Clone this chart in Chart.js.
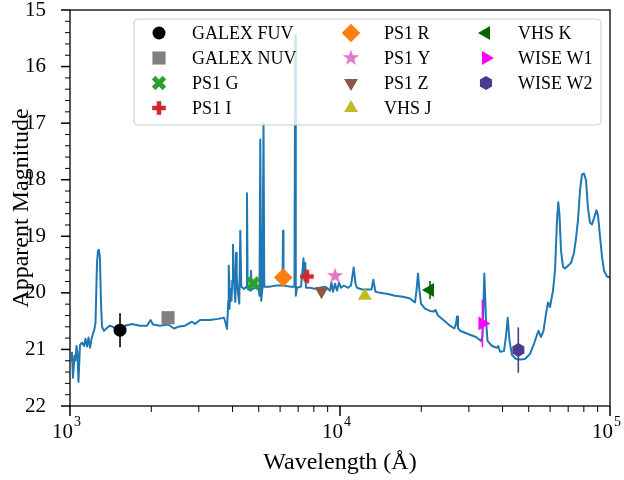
<!DOCTYPE html>
<html>
<head>
<meta charset="utf-8">
<script src="https://cdn.jsdelivr.net/npm/chart.js@4.4.1/dist/chart.umd.min.js"></script>
<style>
  html, body { margin: 0; padding: 0; background: #fff; }
  #wrap { width: 624px; height: 480px; }
</style>
</head>
<body>
<div id="wrap"><canvas id="sed" width="624" height="480" style="width:624px;height:480px"></canvas></div>
<script>
// Spectrum (wavelength in Angstrom, apparent magnitude)
const specWave = [
  1009, 1017, 1026, 1039, 1048, 1057, 1066, 1075, 1089, 1108, 1127, 1141, 1156, 1171, 1186, 1202,
  1217, 1232, 1243, 1259, 1270, 1280, 1291, 1302, 1314, 1336, 1371, 1407, 1468, 1599, 1697, 1816,
  1929, 1987, 2030, 2154, 2307, 2428, 2512, 2667, 2831, 2904, 3030, 3301, 3533, 3719, 3783, 3815,
  3857, 3871, 3887, 3897, 3930, 3964, 3991, 4015, 4040, 4068, 4096, 4120, 4145, 4173, 4236, 4273,
  4309, 4409, 4505, 4524, 4550, 4653, 4680, 4709, 4843, 4989, 5033, 5067, 5106, 5164, 5208, 5243,
  5506, 5794, 6124, 6151, 6177, 6529, 6783, 6824, 6859, 6929, 7170, 7262, 7324, 7387, 7438, 7483,
  7742, 8078, 8432, 8799, 9183, 9300, 9420, 9582, 9748, 9915, 10086, 10346, 10705, 10983, 11239, 11414,
  11561, 12063, 13085, 13285, 13538, 14068, 15058, 15988, 17117, 18163, 18957, 19201, 19447, 19700, 19953, 20645,
  21544, 22289, 22576, 23062, 24276, 25548, 26500, 26891, 27126, 27353, 27826, 30302, 31893, 33291, 33720, 34240,
  34740, 35191, 36559, 38148, 38574, 39140, 40493, 41190, 41791, 42440, 43351, 44859, 46416, 48437, 50546, 52307,
  53660, 54350, 55515, 56718, 57943, 58942, 59948, 61503, 62562, 63640, 64348, 65013, 65848, 66980, 68129, 69894,
  71711, 73564, 74819, 76100, 77426, 78755, 80101, 81485, 82903, 84317, 85770, 87627, 89125, 90270, 91833, 93415,
  95015, 97475, 100000
]
const specMag = [
  21.20, 21.06, 21.50, 21.11, 21.20, 20.94, 21.06, 21.57, 20.92, 20.88, 20.94, 20.81, 20.95, 20.79, 20.97, 20.81,
  20.72, 20.64, 20.53, 19.47, 19.25, 19.24, 19.39, 20.14, 20.60, 20.67, 20.62, 20.58, 20.62, 20.58, 20.55, 20.58,
  20.58, 20.48, 20.56, 20.58, 20.56, 20.63, 20.60, 20.58, 20.51, 20.55, 20.48, 20.48, 20.46, 20.44, 20.56, 20.64,
  20.14, 19.52, 19.78, 20.28, 19.93, 20.14, 19.78, 19.15, 19.61, 19.96, 20.16, 19.29, 19.70, 19.93, 20.19, 18.90,
  19.89, 19.93, 19.89, 18.24, 19.93, 19.96, 19.61, 19.94, 19.91, 19.91, 20.05, 17.29, 20.14, 19.91, 17.00, 19.89,
  19.89, 19.87, 19.87, 18.90, 19.87, 19.89, 19.89, 15.44, 20.05, 19.91, 19.89, 19.61, 19.39, 19.78, 19.47, 19.91,
  19.91, 19.93, 19.91, 19.89, 19.96, 19.82, 19.98, 19.84, 19.96, 19.82, 19.91, 19.87, 19.91, 19.87, 19.55, 19.84,
  19.91, 19.94, 19.94, 19.77, 19.98, 20.00, 20.02, 20.05, 20.07, 20.10, 20.17, 19.96, 19.66, 19.96, 20.19, 20.28,
  20.32, 20.33, 20.30, 20.40, 20.49, 20.58, 20.63, 20.55, 20.42, 20.62, 20.67, 20.74, 20.78, 20.85, 20.76, 19.66,
  20.49, 20.85, 20.94, 20.97, 20.94, 21.04, 21.03, 20.76, 20.44, 20.85, 21.10, 21.17, 21.18, 21.17, 21.08, 20.90,
  20.74, 20.67, 20.78, 20.67, 20.37, 20.17, 20.25, 19.96, 19.61, 18.72, 18.40, 18.63, 19.25, 19.54, 19.57, 19.52,
  19.47, 19.29, 19.04, 18.72, 18.19, 17.91, 17.89, 18.01, 18.51, 18.76, 18.79, 18.65, 18.54, 18.63, 19.00, 19.36,
  19.61, 19.71, 19.73
]

// Photometry
const bands = ['GALEX FUV', 'GALEX NUV', 'PS1 G', 'PS1 I', 'PS1 R', 'PS1 Y', 'PS1 Z', 'VHS J', 'VHS K', 'WISE W1', 'WISE W2']
const bandWave = [1532, 2307, 4775, 7541, 6163, 9585, 8543, 12363, 21544, 33690, 45750]
const bandMag = [20.66, 20.44, 19.83, 19.71, 19.73, 19.70, 19.97, 20.05, 19.95, 20.54, 21.01]
const bandErr = [0.30, 0.08, 0.03, 0.03, 0.03, 0.04, 0.04, 0.05, 0.16, 0.42, 0.40]
const bandColors = ['#000000', '#808080', '#2ca02c', '#d62728', '#ff7f0e', '#e377c2', '#8c564b', '#bcbd22', '#006400', '#ff00ff', '#483d8b']

// Axis ticks
const xMajorTicks = [1e3, 1e4, 1e5]
const yMajorTicks = [15, 16, 17, 18, 19, 20, 21, 22]

const SERIF = "'Liberation Serif', 'DejaVu Serif', serif"
Chart.defaults.font.family = SERIF
Chart.defaults.color = '#000'

// Filled marker shapes that Chart.js does not have
function glyph(color, draw) {
  const size = 20
  const c = document.createElement('canvas')
  c.width = size
  c.height = size
  const g = c.getContext('2d')
  g.translate(size / 2, size / 2)
  g.fillStyle = color
  g.beginPath()
  draw(g)
  g.closePath()
  g.fill()
  return c
}

function plusPath(g, r, rot) {
  const w = r / 3
  const pts = [[-w, -r], [w, -r], [w, -w], [r, -w], [r, w], [w, w], [w, r], [-w, r], [-w, w], [-r, w], [-r, -w], [-w, -w]]
  const c = Math.cos(rot), s = Math.sin(rot)
  pts.forEach(([x, y], i) => {
    const px = x * c - y * s, py = x * s + y * c
    i ? g.lineTo(px, py) : g.moveTo(px, py)
  })
}

function starPath(g, R) {
  for (let k = 0; k < 10; k++) {
    const r = k % 2 ? R * 0.382 : R
    const a = -Math.PI / 2 + k * Math.PI / 5
    k ? g.lineTo(r * Math.cos(a), r * Math.sin(a)) : g.moveTo(r * Math.cos(a), r * Math.sin(a))
  }
}

function hexPath(g, R) {
  for (let k = 0; k < 6; k++) {
    const a = -Math.PI / 2 + k * Math.PI / 3
    k ? g.lineTo(R * Math.cos(a), R * Math.sin(a)) : g.moveTo(R * Math.cos(a), R * Math.sin(a))
  }
}

function markerFor(name, color) {
  switch (name) {
    case 'GALEX FUV': return { pointStyle: 'circle', radius: 6.5, rotation: 0 }
    case 'GALEX NUV': return { pointStyle: 'rect', radius: 9.3, rotation: 0 }
    case 'PS1 G': return { pointStyle: glyph(color, g => plusPath(g, 7.6, Math.PI / 4)), radius: 7, rotation: 0 }
    case 'PS1 I': return { pointStyle: glyph(color, g => plusPath(g, 6.8, 0)), radius: 7, rotation: 0 }
    case 'PS1 R': return { pointStyle: 'rectRot', radius: 9.3, rotation: 0 }
    case 'PS1 Y': return { pointStyle: glyph(color, g => starPath(g, 8.6)), radius: 8, rotation: 0 }
    case 'PS1 Z': return { pointStyle: 'triangle', radius: 8, rotation: 180 }
    case 'VHS J': return { pointStyle: 'triangle', radius: 8, rotation: 0 }
    case 'VHS K': return { pointStyle: 'triangle', radius: 8, rotation: 270 }
    case 'WISE W1': return { pointStyle: 'triangle', radius: 8, rotation: 90 }
    default: return { pointStyle: glyph(color, g => hexPath(g, 7)), radius: 7, rotation: 0 }
  }
}

const markers = bands.map((b, i) => markerFor(b, bandColors[i]))

const bandSets = bands.map((b, i) => ({
  label: b,
  data: [{ x: bandWave[i], y: bandMag[i] }],
  backgroundColor: bandColors[i],
  borderColor: bandColors[i],
  pointBackgroundColor: bandColors[i],
  pointBorderWidth: 0,
  pointStyle: markers[i].pointStyle,
  pointRadius: markers[i].radius,
  pointRotation: markers[i].rotation
}))

const spectrumSet = {
  label: 'spectrum',
  data: specWave.map((w, i) => ({ x: w, y: specMag[i] })),
  showLine: true,
  borderColor: '#1f77b4',
  borderWidth: 2,
  borderJoinStyle: 'round',
  pointRadius: 0,
  tension: 0
}

// Error bars on the photometry
const errorBars = {
  id: 'errorBars',
  afterDatasetsDraw(chart) {
    const { ctx, scales: { x, y } } = chart
    ctx.save()
    ctx.lineWidth = 1.6
    bands.forEach((b, i) => {
      const px = x.getPixelForValue(bandWave[i])
      ctx.strokeStyle = bandColors[i]
      ctx.beginPath()
      ctx.moveTo(px, y.getPixelForValue(bandMag[i] - bandErr[i]))
      ctx.lineTo(px, y.getPixelForValue(bandMag[i] + bandErr[i]))
      ctx.stroke()
    })
    ctx.restore()
  }
}

// Matplotlib-like frame, outward ticks and 10^n labels
const frameAndTicks = {
  id: 'frameAndTicks',
  afterDraw(chart) {
    const { ctx, chartArea: a, scales: { x, y } } = chart
    ctx.save()
    ctx.strokeStyle = '#000'
    ctx.lineWidth = 1.3
    ctx.strokeRect(a.left, a.top, a.right - a.left, a.bottom - a.top)

    const tick = (x1, y1, x2, y2, w) => {
      ctx.lineWidth = w
      ctx.beginPath()
      ctx.moveTo(x1, y1)
      ctx.lineTo(x2, y2)
      ctx.stroke()
    }

    // x ticks
    xMajorTicks.forEach((v, d) => {
      const px = x.getPixelForValue(v)
      tick(px, a.bottom, px, a.bottom + 10, 1.5)
      if (d < xMajorTicks.length - 1) {
        for (let k = 2; k <= 9; k++) {
          const mx = x.getPixelForValue(v * k)
          tick(mx, a.bottom, mx, a.bottom + 6, 1)
        }
      }
    })
    // y ticks
    yMajorTicks.forEach((v, i) => {
      const py = y.getPixelForValue(v)
      tick(a.left, py, a.left - 9, py, 1.5)
      if (i < yMajorTicks.length - 1) {
        for (let k = 1; k < 5; k++) {
          const my = y.getPixelForValue(v + k * 0.2)
          tick(a.left, my, a.left - 5, my, 1)
        }
      }
    })

    // x tick labels 10^n
    ctx.fillStyle = '#000'
    ctx.textBaseline = 'alphabetic'
    ctx.textAlign = 'left'
    xMajorTicks.forEach(v => {
      const px = x.getPixelForValue(v)
      const exp = String(Math.round(Math.log10(v)))
      ctx.font = '21px ' + SERIF
      const wBase = ctx.measureText('10').width
      ctx.font = '14px ' + SERIF
      const wExp = ctx.measureText(exp).width
      const x0 = px - 4 - (wBase + wExp) / 2
      ctx.font = '21px ' + SERIF
      ctx.fillText('10', x0, a.bottom + 32)
      ctx.font = '14px ' + SERIF
      ctx.fillText(exp, x0 + wBase + 1, a.bottom + 20)
    })
    ctx.restore()
  }
}

// Legend inside the axes, filled column by column
const innerLegend = {
  id: 'innerLegend',
  afterDraw(chart) {
    const { ctx } = chart
    const box = { left: 134, top: 19, right: 601, bottom: 125 }
    ctx.save()
    ctx.beginPath()
    ctx.roundRect(box.left, box.top, box.right - box.left, box.bottom - box.top, 4)
    ctx.fillStyle = 'rgba(255,255,255,0.8)'
    ctx.fill()
    ctx.strokeStyle = '#cccccc'
    ctx.lineWidth = 1
    ctx.stroke()

    const colMarker = [159, 351, 486]
    const colText = [192, 384, 518]
    ctx.font = '18px ' + SERIF
    ctx.textBaseline = 'middle'
    ctx.textAlign = 'left'
    bands.forEach((b, i) => {
      const col = Math.floor(i / 4), row = i % 4
      const cy = 33 + row * 25
      ctx.fillStyle = bandColors[i]
      Chart.helpers.drawPoint(ctx, {
        pointStyle: markers[i].pointStyle,
        radius: markers[i].radius,
        rotation: markers[i].rotation,
        borderWidth: 0
      }, colMarker[col], cy)
      ctx.fillStyle = '#000'
      ctx.fillText(b, colText[col], cy + 1)
    })
    ctx.restore()
  }
}

new Chart(document.getElementById('sed'), {
  type: 'scatter',
  data: { datasets: [...bandSets, spectrumSet] },
  options: {
    responsive: false,
    animation: false,
    events: [],
    layout: { padding: { top: 10, right: 14, left: 0, bottom: 0 } },
    plugins: { legend: { display: false }, tooltip: { enabled: false } },
    scales: {
      x: {
        type: 'logarithmic',
        min: 1000,
        max: 100000,
        grid: { display: false },
        border: { display: false },
        ticks: { callback: () => '' },
        title: {
          display: true,
          text: 'Wavelength (Å)',
          font: { size: 24, family: SERIF },
          padding: { top: 0, bottom: 3 }
        },
        afterFit(scale) {
          scale.height = 74
          scale.paddingLeft = 0
          scale.paddingRight = 0
        }
      },
      y: {
        type: 'linear',
        reverse: true,
        min: 15,
        max: 22,
        grid: { display: false },
        border: { display: false },
        ticks: {
          stepSize: 1,
          padding: 16,
          font: { size: 21, family: SERIF }
        },
        title: {
          display: true,
          text: 'Apparent Magnitude',
          font: { size: 24, family: SERIF },
          padding: { top: 7, bottom: 0 }
        },
        afterFit(scale) {
          scale.width = 70
          scale.paddingTop = 0
          scale.paddingBottom = 0
        }
      }
    }
  },
  plugins: [errorBars, frameAndTicks, innerLegend]
})
</script>
</body>
</html>
